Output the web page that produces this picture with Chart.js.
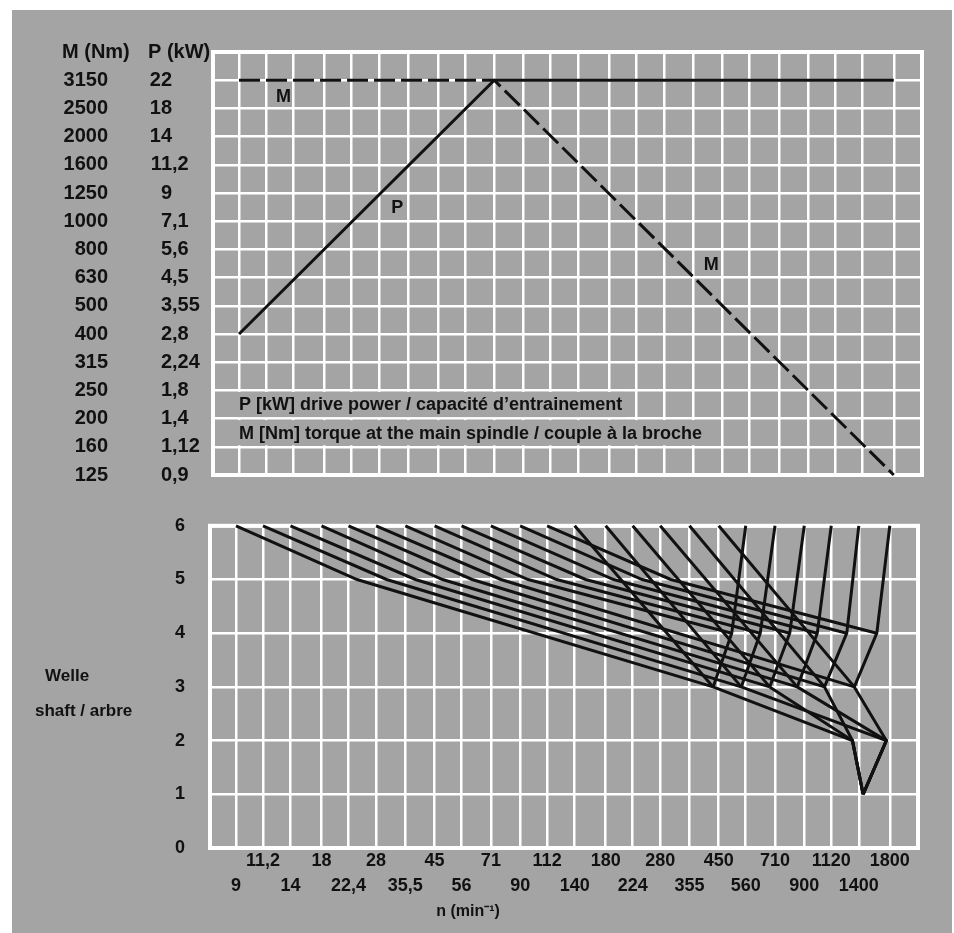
<!DOCTYPE html>
<html>
<head>
<meta charset="utf-8">
<title>Drive power, torque and speed diagram</title>
<script src="https://cdn.jsdelivr.net/npm/chart.js@4.4.1/dist/chart.umd.min.js"></script>
<style>
  html, body { margin: 0; padding: 0; background: #fff; }
  #sheet { position: absolute; left: 12px; top: 10px; width: 940px; height: 923px; background: #a4a4a4; }
  canvas { position: absolute; left: 0; }
  #powerChart { top: 0; }
  #shaftChart { top: 490px; }
</style>
</head>
<body>
<div id="sheet"></div>
<canvas id="powerChart" width="954" height="490"></canvas>
<canvas id="shaftChart" width="954" height="443"></canvas>
<script>
// spindle speeds n (min-1), one grid column each
const speeds = [9, 11.2, 14, 18, 22.4, 28, 35.5, 45, 56, 71, 90, 112, 140, 180, 224, 280, 355, 450, 560, 710, 900, 1120, 1400, 1800];
// left scale of the upper diagram, bottom to top
const torqueTicks = [125, 160, 200, 250, 315, 400, 500, 630, 800, 1000, 1250, 1600, 2000, 2500, 3150];
const powerTicks = [0.9, 1.12, 1.4, 1.8, 2.24, 2.8, 3.55, 4.5, 5.6, 7.1, 9, 11.2, 14, 18, 22];

// upper diagram: P and M over n
const curveSpeeds = [9, 71, 1800];
const powerKW = [2.8, 22, 22];
const torqueNm = [3150, 3150, 125];

// lower diagram: speeds on each shaft (min-1)
const shaft1Speed = 1450;
const shaft2Speeds = [1330, 1750];
const shaft3Speeds = [430, 540, 680, 850, 1060, 1350];
const shaft4Speeds = [500, 630, 800, 1000, 1270, 1620];
const shaft5SpeedsA = [24, 30.5, 38.5, 48, 61, 77];
const shaft5SpeedsB = [96, 121, 153, 192, 242, 305];

const FONT = '"Liberation Sans", Arial, Helvetica, sans-serif';
const INK = '#111';
const PAPER = '#a4a4a4';
const X_MIN = 7.29, X_MAX = 2262;

Chart.defaults.font.family = FONT;
Chart.defaults.font.weight = 'bold';
Chart.defaults.color = INK;

function fmt(v) {
    return String(v).replace('.', ',');
}

const framePlugin = {
    id: 'frame',
    beforeDatasetsDraw(chart) {
        const a = chart.chartArea;
        const ctx = chart.ctx;
        ctx.save();
        ctx.strokeStyle = '#fff';
        ctx.lineWidth = 4;
        ctx.strokeRect(a.left, a.top, a.right - a.left, a.bottom - a.top);
        ctx.restore();
    }
};

const gridX = {
    type: 'logarithmic',
    min: X_MIN,
    max: X_MAX,
    afterBuildTicks: scale => { scale.ticks = speeds.map(v => ({ value: v })); },
    grid: { color: '#fff', lineWidth: 2.5, drawTicks: false },
    border: { display: false }
};

// ---------- upper diagram ----------
const powerLabels = {
    id: 'powerLabels',
    afterDatasetsDraw(chart) {
        const ctx = chart.ctx;
        const x = chart.scales.x;
        const y = chart.scales.y;
        ctx.save();
        ctx.fillStyle = INK;
        ctx.textBaseline = 'middle';
        ctx.font = 'bold 20px ' + FONT;

        torqueTicks.forEach((t, i) => {
            const py = y.getPixelForValue(i);
            ctx.textAlign = 'right';
            ctx.fillText(String(t), 108, py);
            const parts = fmt(powerTicks[i]).split(',');
            ctx.fillText(parts[0], 172, py);
            if (parts[1]) {
                ctx.textAlign = 'left';
                ctx.fillText(',' + parts[1], 172, py);
            }
        });
        ctx.textAlign = 'left';
        ctx.fillText('M (Nm)', 62, y.getPixelForValue(15));
        ctx.fillText('P (kW)', 148, y.getPixelForValue(15));

        // curve names
        ctx.font = 'bold 18px ' + FONT;
        ctx.textAlign = 'center';
        ctx.fillText('M', x.getPixelForValue(12.9), y.getPixelForValue(13.4));
        ctx.fillText('P', x.getPixelForValue(32.4), y.getPixelForValue(9.47));
        ctx.fillText('M', x.getPixelForValue(411), y.getPixelForValue(7.45));

        // key lines, on a plain band over the grid
        const rows = [
            ['P [kW] drive power / capacité d\u2019entrainement', 2],
            ['M [Nm] torque at the main spindle / couple à la broche', 1]
        ];
        ctx.font = 'bold 18px ' + FONT;
        ctx.textAlign = 'left';
        rows.forEach(([txt, v]) => {
            const left = x.getPixelForValue(9);
            const top = y.getPixelForValue(v + 1) + 1.5;
            const bottom = y.getPixelForValue(v) - 1.5;
            const w = ctx.measureText(txt).width;
            ctx.fillStyle = PAPER;
            ctx.fillRect(left - 2, top, w + 6, bottom - top);
            ctx.fillStyle = INK;
            ctx.fillText(txt, left, (top + bottom) / 2 + 1);
        });
        ctx.restore();
    }
};

new Chart(document.getElementById('powerChart'), {
    type: 'scatter',
    data: {
        datasets: [
            {
                label: 'P',
                data: curveSpeeds.map((n, i) => ({ x: n, y: powerTicks.indexOf(powerKW[i]) })),
                showLine: true,
                borderColor: INK,
                borderWidth: 3,
                pointRadius: 0,
                clip: false
            },
            {
                label: 'M',
                data: curveSpeeds.map((n, i) => ({ x: n, y: torqueTicks.indexOf(torqueNm[i]) })),
                showLine: true,
                borderColor: INK,
                borderWidth: 3,
                borderDash: [21, 6],
                pointRadius: 0,
                clip: false
            }
        ]
    },
    options: {
        responsive: false,
        animation: false,
        devicePixelRatio: 1,
        layout: { padding: { top: 52, right: 32, bottom: 15, left: 0 } },
        plugins: { legend: { display: false }, tooltip: { enabled: false } },
        scales: {
            x: Object.assign({}, gridX, {
                ticks: { display: false },
                afterFit: scale => { scale.height = 0; }
            }),
            y: {
                type: 'linear',
                min: 0,
                max: 15,
                afterBuildTicks: scale => {
                    scale.ticks = [];
                    for (let i = 0; i <= 15; i++) scale.ticks.push({ value: i });
                },
                ticks: { display: false },
                grid: { color: '#fff', lineWidth: 2.5, drawTicks: false },
                border: { display: false },
                afterFit: scale => { scale.width = 213; }
            }
        }
    },
    plugins: [framePlugin, powerLabels]
});

// ---------- lower diagram ----------
const paths = [];
for (let k = 0; k < 6; k++) {
    paths.push([[speeds[k], 6], [shaft5SpeedsA[k], 5], [shaft3Speeds[k], 3]]);
    paths.push([[speeds[6 + k], 6], [shaft5SpeedsB[k], 5], [shaft4Speeds[k], 4]]);
    paths.push([[speeds[12 + k], 6], [shaft3Speeds[k], 3]]);
    paths.push([[speeds[18 + k], 6], [shaft4Speeds[k], 4], [shaft3Speeds[k], 3]]);
    paths.push([[shaft3Speeds[k], 3], [shaft2Speeds[k % 2], 2], [shaft1Speed, 1]]);
}

const shaftLabels = {
    id: 'shaftLabels',
    afterDraw(chart) {
        const ctx = chart.ctx;
        ctx.save();
        ctx.fillStyle = INK;
        ctx.textBaseline = 'middle';
        ctx.textAlign = 'left';
        ctx.font = 'bold 17px ' + FONT;
        ctx.fillText('Welle', 45, 186);
        ctx.fillText('shaft / arbre', 35, 221);
        ctx.textAlign = 'center';
        ctx.font = 'bold 16px ' + FONT;
        ctx.fillText('n (min\u207B\u00B9)', 468, 422);
        ctx.restore();
    }
};

new Chart(document.getElementById('shaftChart'), {
    type: 'scatter',
    data: {
        datasets: paths.map(p => ({
            data: p.map(([n, s]) => ({ x: n, y: s })),
            showLine: true,
            borderColor: INK,
            borderWidth: 3,
            pointRadius: 0,
            clip: false
        }))
    },
    options: {
        responsive: false,
        animation: false,
        devicePixelRatio: 1,
        layout: { padding: { top: 15, right: 36, bottom: 0, left: 0 } },
        plugins: { legend: { display: false }, tooltip: { enabled: false } },
        scales: {
            x: Object.assign({}, gridX, {
                ticks: {
                    autoSkip: false,
                    maxRotation: 0,
                    minRotation: 0,
                    padding: 0,
                    color: INK,
                    font: { size: 18, weight: 'bold', lineHeight: 1.4 },
                    callback: (value, index) => index % 2 === 0
                        ? ['', fmt(speeds[index])]
                        : [fmt(speeds[index]), '']
                },
                afterFit: scale => { scale.height = 85; }
            }),
            y: {
                type: 'linear',
                min: 0,
                max: 6,
                ticks: { stepSize: 1, padding: 25, color: INK, font: { size: 18, weight: 'bold' } },
                grid: { color: '#fff', lineWidth: 2.5, drawTicks: false },
                border: { display: false },
                afterFit: scale => { scale.width = 210; }
            }
        }
    },
    plugins: [framePlugin, shaftLabels]
});
</script>
</body>
</html>
